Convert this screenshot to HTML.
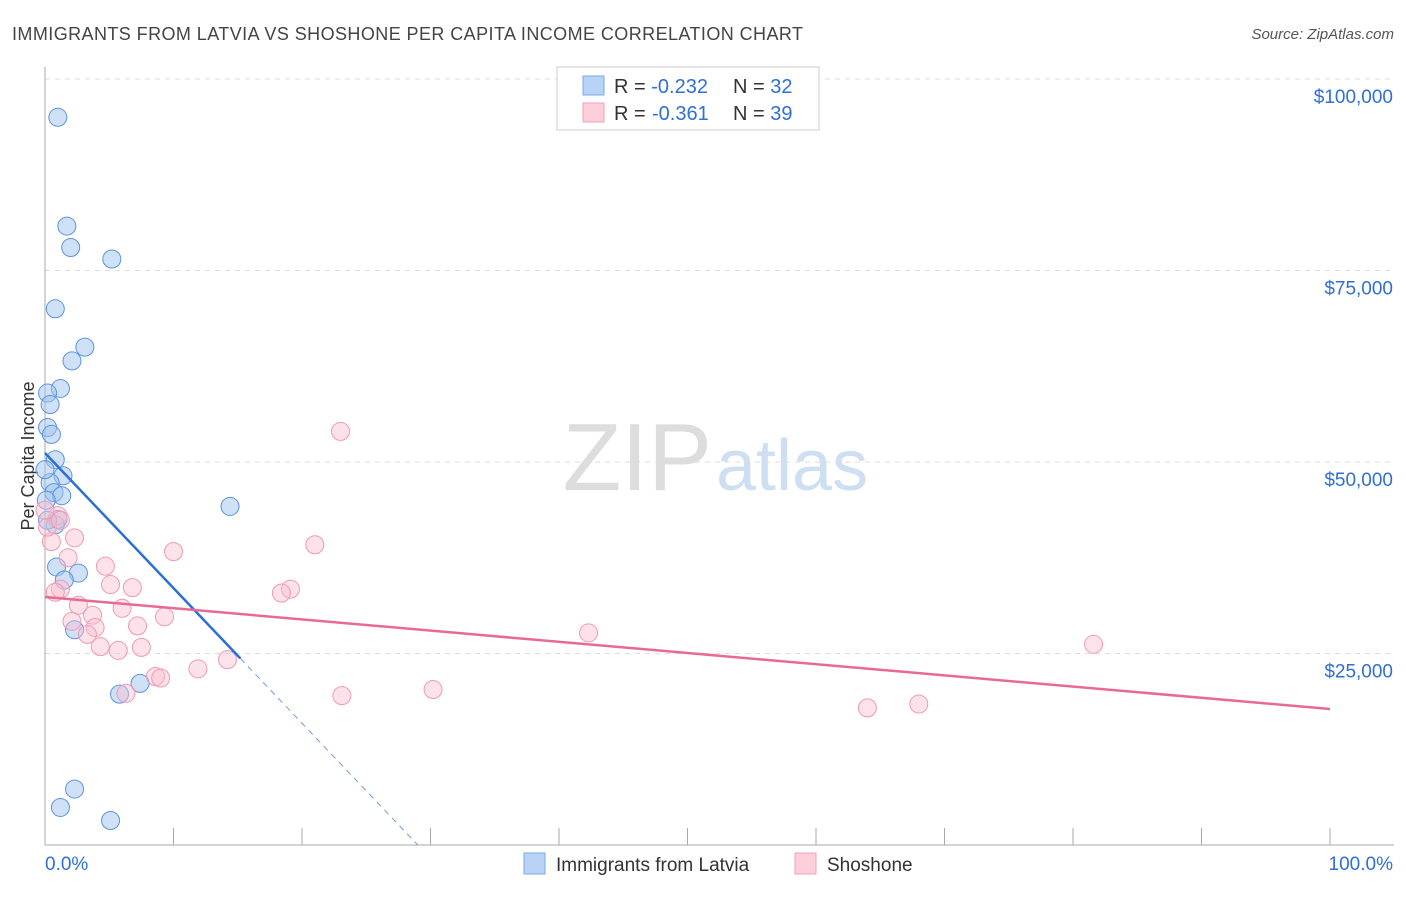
<!DOCTYPE html>
<html><head><meta charset="utf-8"><style>
body{margin:0;background:#fff;font-family:"Liberation Sans",sans-serif;}
svg text{font-family:"Liberation Sans",sans-serif;}
</style></head><body>
<svg id="chart" width="1406" height="892" xmlns="http://www.w3.org/2000/svg">
<text x="12" y="40" font-size="18" fill="#444" textLength="791" lengthAdjust="spacing">IMMIGRANTS FROM LATVIA VS SHOSHONE PER CAPITA INCOME CORRELATION CHART</text>
<text x="1394" y="39" font-size="15" fill="#555" text-anchor="end" font-style="italic">Source: ZipAtlas.com</text>
<text x="712" y="490" font-size="96" fill="#ddd" text-anchor="end" font-family="Liberation Serif">ZIP</text>
<text x="716" y="490" font-size="72" fill="#cfdff3">atlas</text>
<text transform="translate(34,456) rotate(-90)" font-size="18" fill="#333" text-anchor="middle">Per Capita Income</text>
<g id="grid"></g><g id="axes"></g><g id="pts"></g><g id="lines"></g>
<g>
<rect x="557" y="67" width="262" height="63" fill="#fff" stroke="#ccc"/>
<rect x="583" y="76" width="21" height="19" fill="#b8d3f5" stroke="#7aaae8"/>
<rect x="583" y="103" width="21" height="19" fill="#fccfdb" stroke="#f0a0b8"/>
<text x="614" y="93" font-size="20" fill="#333">R = <tspan fill="#2f6fd6">-0.232</tspan><tspan x="733">N = </tspan><tspan fill="#2f6fd6">32</tspan></text>
<text x="614" y="120" font-size="20" fill="#333">R = <tspan fill="#2f6fd6" x="652">-0.361</tspan><tspan x="733">N = </tspan><tspan fill="#2f6fd6">39</tspan></text>
</g>
<g>
<rect x="524" y="853" width="21" height="21" fill="#b8d3f5" stroke="#7aaae8"/>
<text x="556" y="871" font-size="19" fill="#333">Immigrants from Latvia</text>
<rect x="795" y="853" width="21" height="21" fill="#fccfdb" stroke="#f0a0b8"/>
<text x="827" y="871" font-size="19" fill="#333">Shoshone</text>
</g>
</svg>
<script>
const yTicks=[25000,50000,75000,100000];
const yTickLabels=["$25,000","$50,000","$75,000","$100,000"];
const xTickLabels=["0.0%","100.0%"];
const blueX=[1.0,1.7,2.0,5.2,0.8,3.1,2.1,1.2,0.2,0.4,0.2,0.5,0.8,1.4,0.4,0.7,1.3,1.0,0.8,14.4,0.9,2.6,1.5,2.3,5.8,7.4,2.3,1.2,5.1,0.0,0.1,0.2];
const blueY=[95000,80800,78000,76500,70000,65000,63200,59600,59000,57500,54500,53600,50300,48200,47300,46000,45600,42500,41800,44200,36300,35500,34600,28100,19700,21100,7300,4900,3200,49000,45000,42400];
const pinkX=[23.0,21.0,10.0,2.3,0.5,1.8,4.7,1.2,5.1,6.8,0.8,19.1,18.4,2.6,6.0,3.7,9.3,2.1,7.2,3.9,3.3,42.3,4.3,5.7,7.5,81.6,14.2,11.9,8.6,9.0,6.3,23.1,30.2,64.0,68.0,1.0,0.2,0.0,1.2];
const pinkY=[54000,39200,38300,40100,39600,37500,36400,33400,34000,33600,33000,33400,32900,31300,30900,30000,29800,29200,28600,28400,27500,27700,25900,25400,25800,26200,24200,23000,22000,21800,19800,19500,20300,17900,18400,43000,41500,43700,42400];
const blueFit=[51175,-1764];
const pinkFit=[32376,-146.2];
const X0=45,X1=1330,Y0=845,PX=7.66e-3;
const xs=v=>X0+(X1-X0)*v/100, ys=v=>Y0-v*PX;
const NS="http://www.w3.org/2000/svg";
function mk(tag,attrs,parent){const e=document.createElementNS(NS,tag);for(const k in attrs)e.setAttribute(k,attrs[k]);document.getElementById(parent).appendChild(e);return e;}
yTicks.forEach((t,i)=>{
 const g=mk('line',{x1:45,x2:1394,y1:ys(t),y2:ys(t),stroke:'#ddd','stroke-dasharray':'5,5'},'grid');
 
 
 const l=mk('text',{x:1393,y:ys(t)+24,'font-size':19,fill:'#2f6fd6','text-anchor':'end'},'grid');
 l.textContent=yTickLabels[i];
 
 
});
const yl=mk('line',{x1:45,x2:45,y1:67,y2:845,stroke:'#aaa'},'axes');


const xl=mk('line',{x1:45,x2:1394,y1:845,y2:845,stroke:'#aaa'},'axes');


for(let i=0;i<=10;i++){const t=mk('line',{x1:xs(i*10),x2:xs(i*10),y1:828,y2:845,stroke:'#aaa'},'axes');
 
 }
[[0,'start',45],[100,'end',1393]].forEach((a,i)=>{const t=mk('text',{x:a[2],y:870,'font-size':19,fill:'#2f6fd6','text-anchor':a[1]},'axes');t.textContent=xTickLabels[i];
 
 });
blueX.forEach((x,i)=>{const c=mk('circle',{cx:xs(x),cy:ys(blueY[i]),r:9,fill:'rgba(160,196,240,0.5)',stroke:'#5b93de','stroke-width':1},'pts');
 
 });
pinkX.forEach((x,i)=>{const c=mk('circle',{cx:xs(x),cy:ys(pinkY[i]),r:9,fill:'rgba(250,190,206,0.45)',stroke:'#ee9ab2','stroke-width':1},'pts');
 
 });
const bEnd=15.2, bZero=-blueFit[0]/blueFit[1];
const bl=mk('line',{x1:xs(0),y1:ys(blueFit[0]),x2:xs(bEnd),y2:ys(blueFit[0]+blueFit[1]*bEnd),stroke:'#2a6fd6','stroke-width':2.5},'lines');


const bd=mk('line',{x1:xs(bEnd),y1:ys(blueFit[0]+blueFit[1]*bEnd),x2:xs(bZero),y2:ys(0),stroke:'#6d9de0','stroke-width':1,'stroke-dasharray':'6,5'},'lines');


const pl=mk('line',{x1:xs(0),y1:ys(pinkFit[0]),x2:xs(100),y2:ys(pinkFit[0]+pinkFit[1]*100),stroke:'#e86a94','stroke-width':2.5},'lines');


</script>
</body></html>
